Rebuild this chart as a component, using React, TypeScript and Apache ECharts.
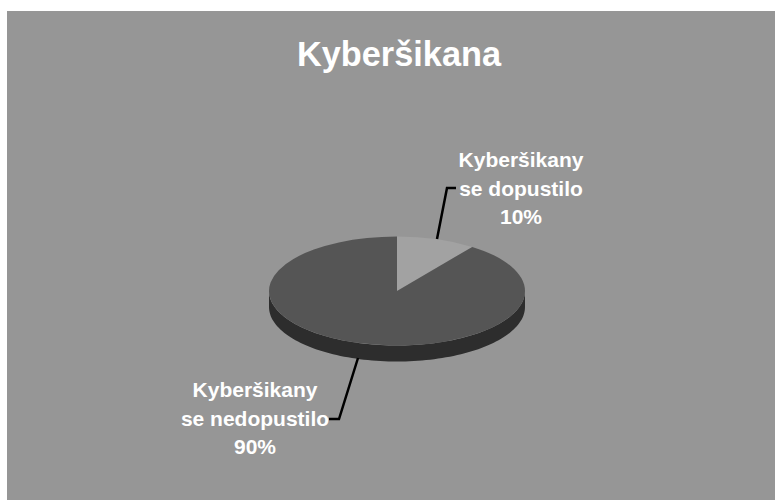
import React, { useEffect, useRef } from "react";
import * as echarts from "echarts";

const titleText = "Kyberšikana";
const categories = ["Kyberšikany\nse dopustilo", "Kyberšikany\nse nedopustilo"];
const values = [10, 90];
const sliceColors = ["#a2a2a2", "#555555"];
const wallColors = ["#6a6a6a", "#2d2d2d"];
// leader lines and label centres, in chart pixels
const leaders = [
  [[430, 228], [440, 177], [449, 177]],
  [[351, 347], [332, 408], [322, 408]],
];
const labelCentres = [[514, 177], [248, 407]];

const OX = 7;
const OY = 11;
const CX = 397 - OX;
const CY = 291 - OY;
const RX = 128;
const RY = 54.5;
const DEPTH = 16;
const FONT = '"Liberation Sans", Arial, sans-serif';

const total = values.reduce((a, b) => a + b, 0);

function renderItem(params: any, api: any) {
  const i = params.dataIndex;
  const before = values.slice(0, i).reduce((a, b) => a + b, 0);
  const a0 = (before / total) * Math.PI * 2;
  const a1 = ((before + api.value(0)) / total) * Math.PI * 2;
  const children: any[] = [];
  // side wall: only the part of the rim facing the viewer (clock angle 90..270)
  const w0 = Math.max(a0, Math.PI / 2);
  const w1 = Math.min(a1, (Math.PI * 3) / 2);
  if (w1 > w0) {
    const top: number[][] = [];
    const bottom: number[][] = [];
    const steps = 96;
    for (let s = 0; s <= steps; s++) {
      const a = w0 + ((w1 - w0) * s) / steps;
      const x = CX + RX * Math.sin(a);
      const y = CY - RY * Math.cos(a);
      top.push([x, y]);
      bottom.push([x, y + DEPTH]);
    }
    children.push({
      type: "polygon",
      shape: { points: top.concat(bottom.reverse()) },
      style: { fill: wallColors[i] },
    });
  }
  // top face: a circular sector squashed to an ellipse
  children.push({
    type: "sector",
    x: CX,
    y: CY,
    scaleY: RY / RX,
    shape: {
      cx: 0,
      cy: 0,
      r0: 0,
      r: RX,
      startAngle: a0 - Math.PI / 2,
      endAngle: a1 - Math.PI / 2,
      clockwise: true,
    },
    style: { fill: sliceColors[i] },
  });
  children.push({
    type: "polyline",
    shape: { points: leaders[i] },
    style: { stroke: "#000000", lineWidth: 2.5, fill: "none" },
  });
  children.push({
    type: "text",
    x: labelCentres[i][0],
    y: labelCentres[i][1],
    style: {
      text: `${categories[i]}\n${Math.round((api.value(0) / total) * 100)}%`,
      fill: "#ffffff",
      font: `bold 21px ${FONT}`,
      lineHeight: 28.5,
      align: "center",
      verticalAlign: "middle",
    },
  });
  return { type: "group", children };
}

export default function App() {
  const ref = useRef<HTMLDivElement>(null);
  useEffect(() => {
    const chart = echarts.init(ref.current!, null, { renderer: "svg" });
    chart.setOption({
      animation: false,
      backgroundColor: "#969696",
      title: {
        text: titleText,
        left: 285,
        top: 21,
        textStyle: {
          color: "#ffffff",
          fontFamily: FONT,
          fontWeight: "bold",
          fontSize: 34.3,
        },
      },
      series: [
        {
          type: "custom",
          coordinateSystem: "none",
          renderItem,
          data: values.map((v) => [v]),
        },
      ],
    });
    return () => chart.dispose();
  }, []);
  return (
    <div
      ref={ref}
      style={{ position: "absolute", left: OX, top: OY, width: 768, height: 489 }}
    />
  );
}
